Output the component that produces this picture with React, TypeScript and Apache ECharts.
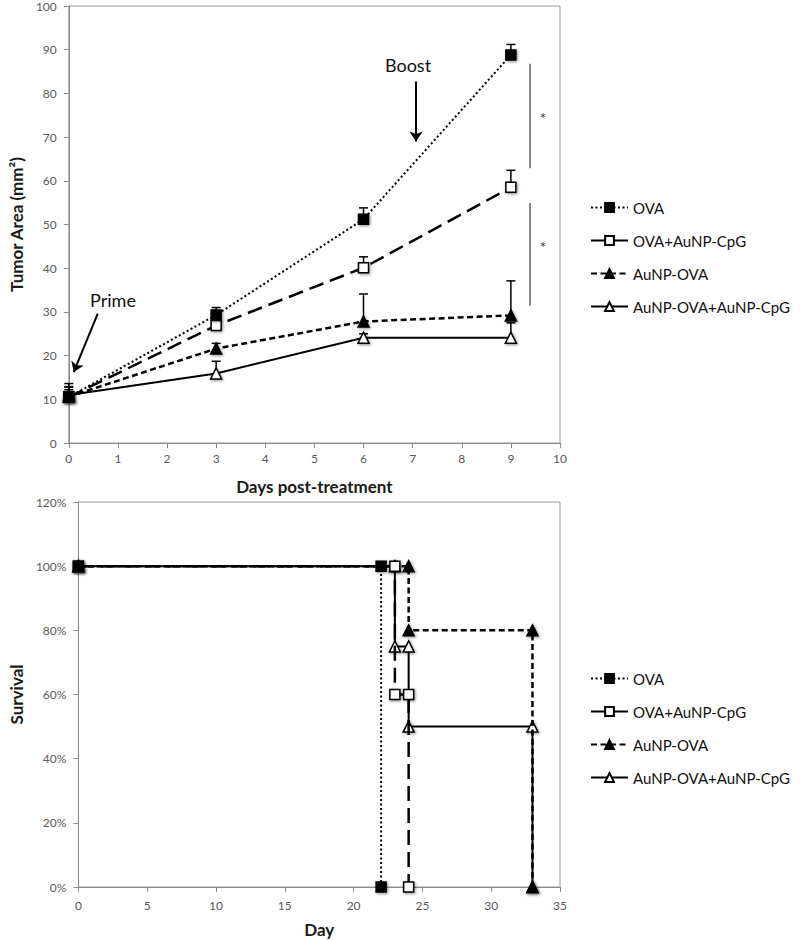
import React, { useEffect, useRef } from "react";
import * as echarts from "echarts";

const seriesNames = ["OVA", "OVA+AuNP-CpG", "AuNP-OVA", "AuNP-OVA+AuNP-CpG"];

// Top chart: tumor area (mm²) by day post-treatment
const days = [0, 3, 6, 9];
const ovaMean = [10.5, 29.3, 51.2, 88.8];
const ovaErrTop = [13.6, 31.0, 53.8, 91.2];
const ovaCpgMean = [10.5, 26.9, 40.1, 58.5];
const ovaCpgErrTop = [12.8, 28.5, 42.6, 62.4];
const aunpMean = [10.6, 21.6, 27.8, 29.2];
const aunpErrTop = [12.2, 22.8, 34.1, 37.1];
const comboMean = [11.0, 15.9, 24.1, 24.1];
const comboErrTop = [12.9, 18.7, 25.0, 27.5];

// Significance brackets [x, yTop, yBottom] and star positions
const sigLines = [
  [9.39, 86.8, 62.9],
  [9.39, 54.9, 31.4],
];
const sigStars = [
  [9.65, 75.2],
  [9.65, 45.6],
];
// Annotation arrows [[x1,y1],[x2,y2]]
const boostArrow = [[7.07, 82.7], [7.07, 69.0]];
const primeArrow = [[0.59, 29.6], [0.1, 16.2]];

// Bottom chart: survival (%) by day
const survOva = [[0, 100], [22, 100], [22, 0]];
const survOvaCpg = [[0, 100], [23, 100], [23, 60], [24, 60], [24, 0]];
const survAunp = [[0, 100], [24, 100], [24, 80], [33, 80], [33, 0]];
const survCombo = [[0, 100], [23, 100], [23, 75], [24, 75], [24, 50], [33, 50], [33, 0]];

const FONT = "Lato";
const styles = [
  { symbol: "rect", fill: "#000", dash: [2, 2.5], width: 2, size: 10 },
  { symbol: "rect", fill: "#fff", dash: [15, 7], width: 2.5, size: 10 },
  { symbol: "triangle", fill: "#000", dash: [6, 3.5], width: 2.5, size: 11 },
  { symbol: "triangle", fill: "#fff", dash: "solid", width: 2, size: 11 },
];

function lineSeries(name: string, idx: number, data: number[][], gridIndex: number, z: number) {
  const s = styles[idx];
  return {
    type: "line",
    name,
    xAxisIndex: gridIndex,
    yAxisIndex: gridIndex,
    data,
    symbol: s.symbol,
    symbolSize: s.size,
    showSymbol: true,
    z,
    lineStyle: { color: "#000", width: s.width, type: s.dash },
    itemStyle: {
      color: s.fill,
      borderColor: "#000",
      borderWidth: 1.5,
      shadowColor: "rgba(0,0,0,0.45)",
      shadowBlur: 3,
      shadowOffsetX: 1,
      shadowOffsetY: 1,
    },
    emphasis: { disabled: true },
  };
}

function errSeries(mean: number[], top: number[]) {
  return {
    type: "custom",
    xAxisIndex: 0,
    yAxisIndex: 0,
    z: 1,
    silent: true,
    data: days.map((d, i) => [d, mean[i], top[i]]),
    encode: { x: 0, y: [1, 2] },
    renderItem: (params: any, api: any) => {
      const p1 = api.coord([api.value(0), api.value(1)]);
      const p2 = api.coord([api.value(0), api.value(2)]);
      return {
        type: "group",
        children: [
          { type: "line", shape: { x1: p1[0], y1: p1[1], x2: p2[0], y2: p2[1] }, style: { stroke: "#000", lineWidth: 1.5 } },
          { type: "line", shape: { x1: p2[0] - 4.5, y1: p2[1], x2: p2[0] + 4.5, y2: p2[1] }, style: { stroke: "#000", lineWidth: 1.5 } },
        ],
      };
    },
  };
}

export default function App() {
  const ref = useRef<HTMLDivElement>(null);
  useEffect(() => {
    if (!ref.current) return;
    const chart = echarts.init(ref.current, undefined, { renderer: "svg" });
    const axisLabel = { color: "#595959", fontSize: 12, fontFamily: FONT };
    const axisLine = { show: true, lineStyle: { color: "#8c8c8c", width: 1 } };
    const axisTick = { show: true, length: 5, lineStyle: { color: "#8c8c8c" } };
    const nameStyle = { fontSize: 17, fontWeight: "bold", fontFamily: FONT, color: "#1a1a1a" };
    const legendBase = {
      data: seriesNames,
      orient: "vertical",
      left: 585,
      itemWidth: 37,
      itemHeight: 11,
      itemGap: 18,
      selectedMode: false,
      textStyle: { fontSize: 15, fontFamily: FONT, color: "#111", lineHeight: 15 },
    };
    const drawOrder = [3, 2, 1, 0];
    const topData = [ovaMean, ovaCpgMean, aunpMean, comboMean];
    const survData = [survOva, survOvaCpg, survAunp, survCombo];
    const series: any[] = [];
    series.push(errSeries(ovaMean, ovaErrTop));
    series.push(errSeries(ovaCpgMean, ovaCpgErrTop));
    series.push(errSeries(aunpMean, aunpErrTop));
    series.push(errSeries(comboMean, comboErrTop));
    drawOrder.forEach((i, k) => {
      series.push(lineSeries(seriesNames[i], i, days.map((d, j) => [d, topData[i][j]]), 0, 3 + k));
    });
    drawOrder.forEach((i, k) => {
      series.push(lineSeries(seriesNames[i], i, survData[i], 1, 3 + k));
    });
    sigLines.forEach((s) => {
      series.push({
        type: "line",
        xAxisIndex: 0,
        yAxisIndex: 0,
        data: [[s[0], s[1]], [s[0], s[2]]],
        symbol: "none",
        silent: true,
        lineStyle: { color: "#333", width: 1.2, type: "solid" },
      });
    });
    series.push({
      type: "custom",
      xAxisIndex: 0,
      yAxisIndex: 0,
      silent: true,
      data: sigStars,
      renderItem: (params: any, api: any) => {
        const p = api.coord([api.value(0), api.value(1)]);
        return {
          type: "text",
          x: p[0],
          y: p[1] + 3,
          style: { text: "*", fill: "#444", font: `16px ${FONT}`, align: "center", verticalAlign: "middle" },
        };
      },
    });
    series.push({
      type: "lines",
      coordinateSystem: "cartesian2d",
      xAxisIndex: 0,
      yAxisIndex: 0,
      silent: true,
      symbol: ["none", "arrow"],
      symbolSize: 10,
      lineStyle: { color: "#000", width: 2, opacity: 1 },
      data: [{ coords: boostArrow }, { coords: primeArrow }],
    });

    chart.setOption({
      animation: false,
      backgroundColor: "#fff",
      grid: [
        { left: 68, top: 4, width: 492, height: 439, show: true, borderColor: "#9a9a9a", borderWidth: 1 },
        { left: 63, top: 502, width: 497, height: 385, show: true, borderColor: "#9a9a9a", borderWidth: 1 },
      ],
      xAxis: [
        {
          type: "value", gridIndex: 0, min: 0, max: 10, interval: 1,
          axisLine, axisTick, axisLabel: { ...axisLabel, margin: 9 }, splitLine: { show: false },
          name: "Days post-treatment", nameLocation: "middle", nameGap: 35, nameTextStyle: nameStyle,
        },
        {
          type: "value", gridIndex: 1, min: 0, max: 35, interval: 5,
          axisLine, axisTick, axisLabel: { ...axisLabel, margin: 12 }, splitLine: { show: false },
          name: "Day", nameLocation: "middle", nameGap: 34, nameTextStyle: nameStyle,
        },
      ],
      yAxis: [
        {
          type: "value", gridIndex: 0, min: 0, max: 100, interval: 10,
          axisLine, axisTick, axisLabel: { ...axisLabel, margin: 12 }, splitLine: { show: false },
          name: "Tumor Area (mm²)", nameLocation: "middle", nameGap: 37, nameTextStyle: nameStyle,
        },
        {
          type: "value", gridIndex: 1, min: 0, max: 120, interval: 20,
          axisLine, axisTick, axisLabel: { ...axisLabel, margin: 12, formatter: "{value}%" }, splitLine: { show: false },
          name: "Survival", nameLocation: "middle", nameGap: 46, nameTextStyle: nameStyle,
        },
      ],
      legend: [
        { ...legendBase, top: 195 },
        { ...legendBase, top: 666 },
      ],
      graphic: [
        { type: "text", x: 408, y: 65, style: { text: "Boost", font: `18px ${FONT}`, fill: "#111", align: "center", verticalAlign: "middle" } },
        { type: "text", x: 113, y: 300, style: { text: "Prime", font: `18px ${FONT}`, fill: "#111", align: "center", verticalAlign: "middle" } },
      ],
      series,
    });
    return () => chart.dispose();
  }, []);
  return <div ref={ref} style={{ position: "absolute", left: 0, top: 0, width: 800, height: 940 }} />;
}
